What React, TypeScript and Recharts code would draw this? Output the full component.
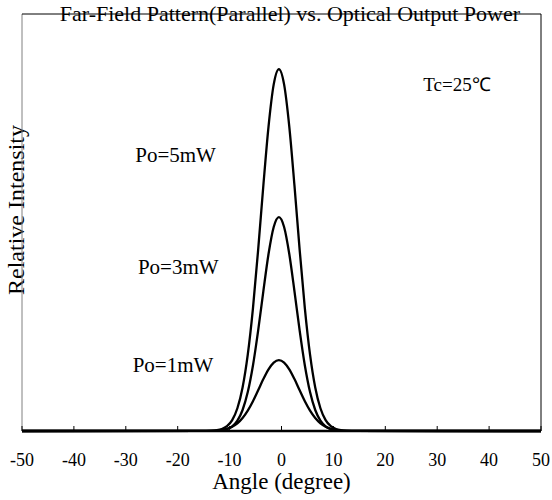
import React from 'react';
import { LineChart, Line, XAxis, YAxis, ReferenceLine, ReferenceDot } from 'recharts';

const angles = [-50, -14.5, -13.5, -12.5, -11.5, -10.5, -9.5, -8.5, -7.5, -6.5, -5.5, -4.5, -3.5, -2.5, -1.5, -0.5, 0.5, 1.5, 2.5, 3.5, 4.5, 5.5, 6.5, 7.5, 8.5, 9.5, 10.5, 11.5, 12.5, 13.5, 50];
const po5 = [0, 0.0002, 0.0006, 0.0017, 0.0046, 0.0115, 0.0261, 0.0545, 0.1043, 0.183, 0.2943, 0.4345, 0.5882, 0.7301, 0.8313, 0.868, 0.8313, 0.7301, 0.5882, 0.4345, 0.2943, 0.183, 0.1043, 0.0545, 0.0261, 0.0115, 0.0046, 0.0017, 0.0006, 0.0002, 0];
const po3 = [0, 0.0001, 0.0002, 0.0006, 0.0017, 0.0045, 0.0111, 0.0248, 0.0504, 0.0933, 0.1571, 0.2405, 0.335, 0.4245, 0.4893, 0.513, 0.4893, 0.4245, 0.335, 0.2405, 0.1571, 0.0933, 0.0504, 0.0248, 0.0111, 0.0045, 0.0017, 0.0006, 0.0002, 0.0001, 0];
const po1 = [0, 0.0002, 0.0005, 0.0012, 0.0026, 0.0053, 0.0103, 0.0185, 0.0312, 0.0489, 0.0715, 0.0977, 0.1245, 0.148, 0.1642, 0.17, 0.1642, 0.148, 0.1245, 0.0977, 0.0715, 0.0489, 0.0312, 0.0185, 0.0103, 0.0053, 0.0026, 0.0012, 0.0005, 0.0002, 0];
const xTicks = [-50, -40, -30, -20, -10, 0, 10, 20, 30, 40, 50];

const title = 'Far-Field Pattern(Parallel) vs. Optical Output Power';
const xLabel = 'Angle (degree)';
const yLabel = 'Relative Intensity';
const seriesLabels = [
  { text: 'Po=5mW', x: -20.4, y: 0.662, size: 21 },
  { text: 'Po=3mW', x: -19.9, y: 0.393, size: 21 },
  { text: 'Po=1mW', x: -20.9, y: 0.158, size: 21 },
  { text: 'Tc=25℃', x: 33.8, y: 0.83, size: 19 },
];

const FONT = '"Liberation Serif", "Times New Roman", serif';

const data = angles.map((a, i) => ({ angle: a, p5: po5[i], p3: po3[i], p1: po1[i] }));

const Tick = (props: any) => {
  const { x, y, payload } = props;
  return (
    <g>
      <line x1={x} x2={x} y1={y} y2={y - 5} stroke="#000" strokeWidth={1} />
      <text x={x} y={y + 35} textAnchor="middle" style={{ fontFamily: FONT }} fontSize={18} fill="#000">
        {payload.value}
      </text>
    </g>
  );
};

const makeLabelShape = (text: string, size: number) => (props: any) => {
  const { cx, cy } = props;
  return (
    <text x={cx} y={cy} dy="0.33em" textAnchor="middle" style={{ fontFamily: FONT }} fontSize={size} fill="#000">
      {text}
    </text>
  );
};

export default function App() {
  return (
    <div style={{ position: 'fixed', left: 0, top: 0, width: 552, height: 500, background: '#fff', fontFamily: FONT }}>
      <LineChart width={552} height={500} data={data} margin={{ top: 14, right: 11, left: 22, bottom: 9 }} style={{ fontFamily: FONT }}>
        <XAxis
          dataKey="angle"
          type="number"
          domain={[-50, 50]}
          ticks={xTicks}
          tickSize={0}
          tickMargin={0}
          tickLine={false}
          axisLine={{ stroke: '#000', strokeWidth: 2.5 }}
          tick={<Tick />}
          height={60}
          interval={0}
        />
        <YAxis type="number" domain={[0, 1]} hide />
        <ReferenceLine x={-50} stroke="#808080" strokeWidth={1} />
        <ReferenceLine y={1} stroke="#000" strokeWidth={1} />
        <ReferenceLine x={50} stroke="#000" strokeWidth={1} />
        <Line type="monotone" dataKey="p5" stroke="#000" strokeWidth={2.3} dot={false} isAnimationActive={false} />
        <Line type="monotone" dataKey="p3" stroke="#000" strokeWidth={2.3} dot={false} isAnimationActive={false} />
        <Line type="monotone" dataKey="p1" stroke="#000" strokeWidth={2.3} dot={false} isAnimationActive={false} />
        {seriesLabels.map((l) => (
          <ReferenceDot key={l.text} x={l.x} y={l.y} r={1} shape={makeLabelShape(l.text, l.size)} />
        ))}
        <text x={520} y={21} textAnchor="end" style={{ fontFamily: FONT }} fontSize={22} fill="#000">{title}</text>
        <text x={281.5} y={489} textAnchor="middle" style={{ fontFamily: FONT }} fontSize={23} fill="#000">{xLabel}</text>
        <text x={24} y={210} transform="rotate(-90 24 210)" textAnchor="middle" style={{ fontFamily: FONT }} fontSize={24} fill="#000">{yLabel}</text>
      </LineChart>
    </div>
  );
}
